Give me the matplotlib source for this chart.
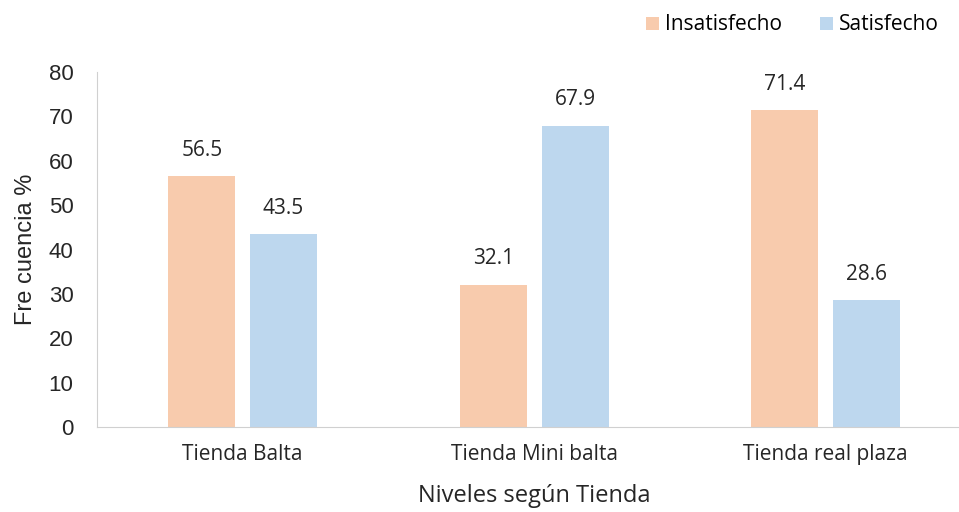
import numpy as np
import matplotlib.pyplot as plt

plt.rcParams['font.family'] = ['Open Sans', 'DejaVu Sans']

tiendas = ['Tienda Balta', 'Tienda Mini balta', 'Tienda real plaza']
insatisfecho = [56.5, 32.1, 71.4]
satisfecho = [43.5, 67.9, 28.6]

fig = plt.figure(figsize=(9.59, 5.12), dpi=100)
ax = fig.add_axes([97 / 959, 85 / 512, 874.5 / 959, 355 / 512])

x = np.arange(len(tiendas))
w = 0.23
off = 0.14
b1 = ax.bar(x - off, insatisfecho, w, color='#F8CBAD', label='Insatisfecho')
b2 = ax.bar(x + off, satisfecho, w, color='#BDD7EE', label='Satisfecho')

for bars, vals in [(b1, insatisfecho), (b2, satisfecho)]:
    for b, v in zip(bars, vals):
        ax.annotate(f'{v:.1f}', (b.get_x() + b.get_width() / 2, v),
                    xytext=(0, 11), textcoords='offset points',
                    ha='center', va='bottom', fontsize=15, color='#262626')

ax.set_xlim(-0.5, 2.5)
ax.set_ylim(0, 80)
ax.set_yticks(range(0, 81, 10))
ax.set_yticklabels([str(t) for t in range(0, 81, 10)],
                   family=['Liberation Sans', 'DejaVu Sans'])
ax.set_xticks(x)
ax.set_xticklabels(tiendas, fontsize=15, color='#262626')
ax.tick_params(axis='y', labelsize=16, labelcolor='#262626', length=0, pad=17)
ax.tick_params(axis='x', length=0, pad=12)

for s in ['top', 'right']:
    ax.spines[s].set_visible(False)
for s in ['left', 'bottom']:
    ax.spines[s].set_color('#D0D0D0')

ax.set_xlabel('Niveles según Tienda', fontsize=17, color='#262626', labelpad=14)
ax.set_ylabel('Fre cuencia %', fontsize=17, color='#262626', labelpad=8,
              family=['Liberation Sans', 'DejaVu Sans'])

ax.legend(loc='center right', bbox_to_anchor=(939 / 959, 1 - 25 / 512), bbox_transform=fig.transFigure,
          ncol=2, frameon=False, fontsize=15, handlelength=0.6, handleheight=0.6,
          handletextpad=0.3, columnspacing=1.85, borderpad=0, borderaxespad=0)

fig.savefig('out.png', dpi=100)
